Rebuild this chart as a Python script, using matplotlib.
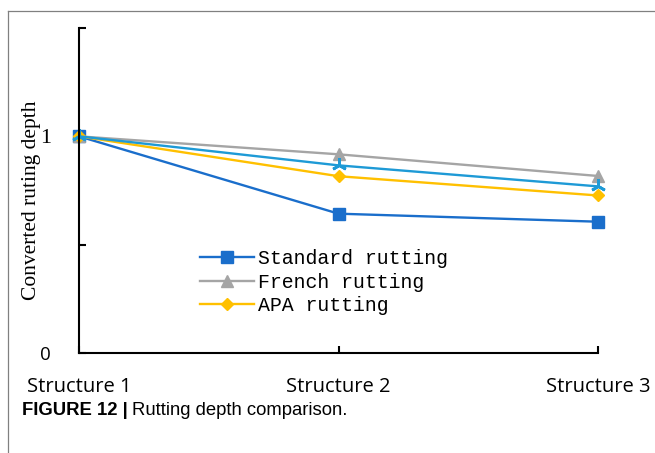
import matplotlib.pyplot as plt
from matplotlib.lines import Line2D

# Data
structures = ['Structure 1', 'Structure 2', 'Structure 3']
standard = [1.0, 0.643, 0.606]
french = [1.0, 0.917, 0.817]
other = [1.0, 0.866, 0.769]
apa = [1.0, 0.816, 0.727]

fig = plt.figure(figsize=(6.55, 4.53), dpi=100)
ax = fig.add_axes([79 / 655, 100 / 453, 519 / 655, 325 / 453])

x = range(len(structures))
ax.plot(x, standard, color='#1A6ECB', lw=1.7, marker='s', ms=8.5, label='Standard rutting', clip_on=False)
ax.plot(x, french, color='#A5A5A5', lw=1.7, marker='^', ms=9, label='French rutting', clip_on=False)
ax.plot(x, apa, color='#FFC000', lw=1.7, marker='D', ms=6, label='APA rutting', clip_on=False)
ax.plot(x, other, color='#1E9AD6', lw=1.7, marker=(3, 2, 0), ms=10.5, mew=2, clip_on=False)

ax.set_xlim(0, 2)
ax.set_ylim(0, 1.5)
ax.spines['top'].set_visible(False)
ax.spines['right'].set_visible(False)
for s in ['left', 'bottom']:
    ax.spines[s].set_linewidth(1.5)
    ax.spines[s].set_capstyle('projecting')

ax.set_xticks(list(x))
ax.set_xticklabels(structures, fontfamily='Open Sans', fontsize=14.5)
ax.set_yticks([0, 0.5, 1, 1.5])
ax.set_yticklabels(['0', '', '1', ''])
ax.tick_params(axis='both', direction='in', length=5, width=1.5)
ax.tick_params(axis='x', pad=17)
ax.tick_params(axis='y', pad=20)
ylabs = ax.get_yticklabels()
ylabs[0].set_fontfamily('Open Sans')
ylabs[0].set_fontsize(13.5)
ylabs[2].set_fontfamily('Liberation Serif')
ylabs[2].set_fontsize(16)

ax.set_ylabel('Converted ruting depth', fontfamily='Liberation Serif', fontsize=15.5)
ax.yaxis.set_label_coords(-0.073, 0.47)

ax.legend(loc='center left', bbox_to_anchor=(0.233, 0.218), frameon=False,
          prop={'family': 'Liberation Mono', 'size': 14.3},
          borderpad=0, borderaxespad=0, labelspacing=0.22,
          handlelength=2.73, handletextpad=0.2)

# Panel border
fig.add_artist(Line2D([8 / 655, 1], [1 - 11 / 453, 1 - 11 / 453], color='#808080', lw=0.9))
fig.add_artist(Line2D([8 / 655, 8 / 655], [0, 1 - 11 / 453], color='#808080', lw=0.9))

# Caption
t1 = fig.text(22 / 655, 1 - 415 / 453, 'FIGURE 12 |', fontfamily='Liberation Sans',
              fontweight='bold', fontsize=13.3, va='baseline')
fig.canvas.draw()
bb = t1.get_window_extent(fig.canvas.get_renderer())
fig.text((bb.x1 + 4) / 655, 1 - 415 / 453, 'Rutting depth comparison.',
         fontfamily='Liberation Sans', fontsize=13.3, va='baseline')

fig.savefig('out.png', dpi=100)
